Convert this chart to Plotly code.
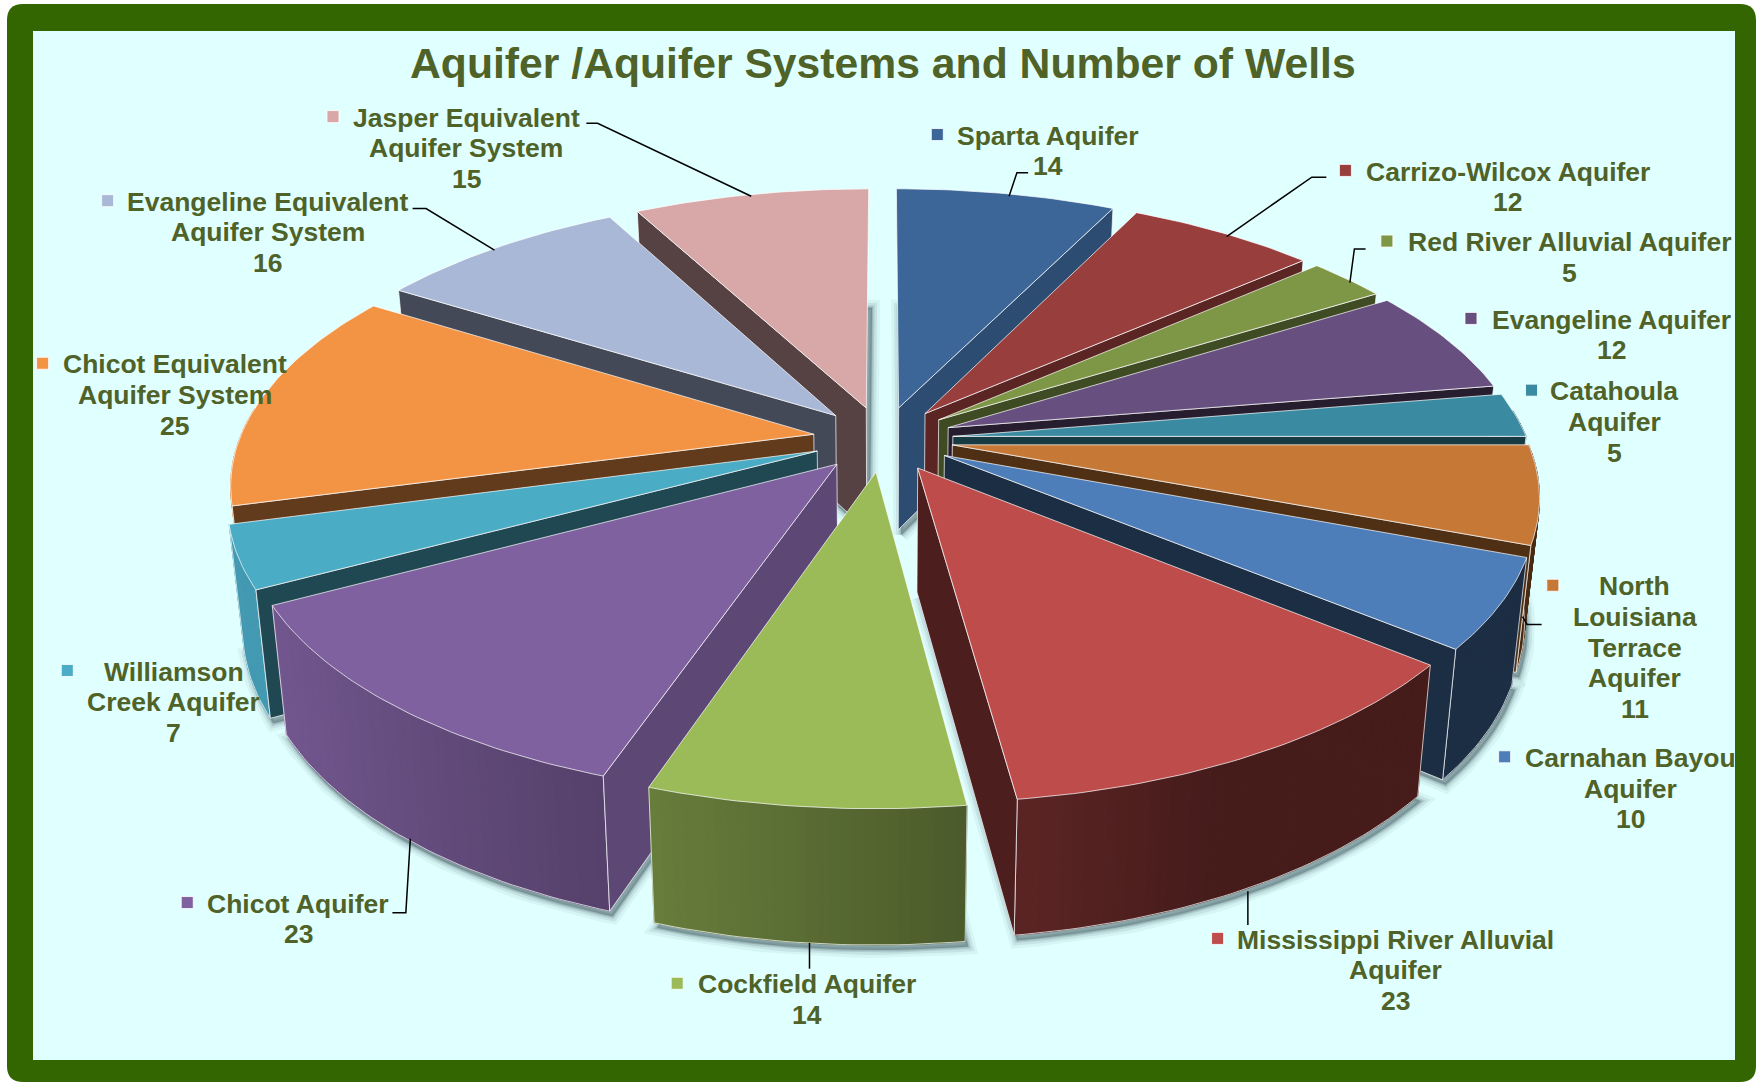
import numpy as np
import plotly.graph_objects as go

names = ["Sparta Aquifer", "Carrizo-Wilcox Aquifer", "Red River Alluvial Aquifer", "Evangeline Aquifer",
         "Catahoula Aquifer", "North Louisiana Terrace Aquifer", "Carnahan Bayou Aquifer",
         "Mississippi River Alluvial Aquifer", "Cockfield Aquifer", "Chicot Aquifer",
         "Williamson Creek Aquifer", "Chicot Equivalent Aquifer System",
         "Evangeline Equivalent Aquifer System", "Jasper Equivalent Aquifer System"]
wells = [14, 12, 5, 12, 5, 11, 10, 23, 14, 23, 7, 25, 16, 15]

label_lines = [["Sparta Aquifer"], ["Carrizo-Wilcox Aquifer"], ["Red River Alluvial Aquifer"], ["Evangeline Aquifer"],
               ["Catahoula", "Aquifer"], ["North", "Louisiana", "Terrace", "Aquifer"], ["Carnahan Bayou", "Aquifer"],
               ["Mississippi River Alluvial", "Aquifer"], ["Cockfield Aquifer"], ["Chicot Aquifer"],
               ["Williamson", "Creek Aquifer"], ["Chicot Equivalent", "Aquifer System"],
               ["Evangeline Equivalent", "Aquifer System"], ["Jasper Equivalent", "Aquifer System"]]

# styles
colors = ["#3C6697", "#983E3C", "#7E9746", "#67507F", "#3A8BA1", "#C67836", "#4D7EBA",
          "#BE4C4B", "#9BBB59", "#7F619F", "#4BACC6", "#F39445", "#A9B8D7", "#D8A7A7"]
edge_shade = [.75, .6, .5, .37, .42, .4, .37, .4, .6, .74, .42, .4, .4, .4]

# layout in page pixels
S = 1758 / 1568
label_xy = [(935, 121), (1345, 153), (1400, 216), (1437, 285), (1440, 349), (1458, 523), (1454, 676),
            (1245, 838), (720, 878), (266, 806), (155, 599), (156, 325), (239, 180), (416, 105)]
key_xy = [(836, 120), (1200, 152), (1237, 215), (1312, 284), (1366, 348), (1385, 522), (1342, 675),
          (1086, 837), (604, 877), (167, 805), (60, 598), (38, 324), (96, 179), (297, 104)]
leaders = [[(917, 154), (907, 154), (900, 175)], [(1183, 158), (1170, 158), (1094, 211)],
           [(1218, 222), (1208, 222), (1204, 252)], [(1375, 557), (1362, 557), (1358, 550)],
           [(1113, 825), (1113, 795)], [(722, 864), (722, 841)], [(350, 814), (362, 814), (366, 748)],
           [(368, 186), (380, 186), (441, 223)], [(523, 110), (533, 110), (670, 175)]]

CX, CY, RX, RY, K = 883, 439, 638, 296, 0.19
RAD, PULL = 0.90, 0.11
TEXT = "#4F6228"
FONT = "Liberation Sans, Arial, sans-serif"
WIDTH, HEIGHT = 1758, 1084


def top(u, v):
    w = 1 - K * v
    return CX + RX * u / w, CY + RY * v / w


def bottom(u, v):
    x, y = top(u, v)
    w = 1 - K * v
    return CX + (x - CX) * 0.977, y + 67 + 56 / w


def rgb(hexc, f):
    c = [int(hexc[i:i + 2], 16) for i in (1, 3, 5)]
    return "rgb(%d,%d,%d)" % tuple(int(min(255, x * f)) for x in c)


def poly(pts, fill, line="rgba(0,0,0,0)", width=0):
    xs, ys = zip(*pts)
    return go.Scatter(x=list(xs) + [xs[0]], y=list(ys) + [ys[0]], mode="lines", fill="toself",
                      fillcolor=fill, line=dict(color=line, width=width), hoverinfo="skip", showlegend=False)


total = sum(wells)
ends = np.cumsum(wells) / total * 2 * np.pi
starts = ends - np.array(wells) / total * 2 * np.pi
mids = (starts + ends) / 2
EDGE = "rgba(255,255,255,0.7)"
fig = go.Figure()


def rim(i):
    n = max(3, int(wells[i]))
    th = np.linspace(starts[i], ends[i], n * 2 + 1)
    ox, oy = PULL * np.sin(mids[i]), -PULL * np.cos(mids[i])
    return [(ox + RAD * np.sin(t), oy - RAD * np.cos(t)) for t in th], (ox, oy), th


# soft shadows
for wid, al in ((16, .08), (10, .12), (5, .2), (2, .25)):
    for i in range(len(wells)):
        r, tip, _ = rim(i)
        pts = [bottom(*tip)] + [bottom(*p) for p in r]
        pts = [(x + 3, y + 5) for x, y in pts]
        c = "rgba(85,110,115,%.2f)" % al
        fig.add_trace(poly(pts, c, c, wid))

# slices, back to front
order = np.argsort(-np.cos(mids))
for i in order:
    r, tip, th = rim(i)
    col = colors[i]
    wall = rgb(col, edge_shade[i])
    # outer wall in shaded strips, only where it faces the viewer
    seen = []
    for a, b, t0, t1 in zip(r[:-1], r[1:], th[:-1], th[1:]):
        t = (t0 + t1) / 2
        if np.cos(t) < 0.1:
            f = float(np.clip(0.54 - 0.41 * np.sin(t), 0.37, 0.9))
            c = rgb(col, f)
            fig.add_trace(poly([top(*a), top(*b), bottom(*b), bottom(*a)], c, c, 1))
            seen += [a, b]
    if seen:
        xs, ys = zip(*([top(*seen[0])] + [bottom(*p) for p in seen] + [top(*seen[-1])]))
        fig.add_trace(go.Scatter(x=xs, y=ys, mode="lines", line=dict(color=EDGE, width=1),
                                 hoverinfo="skip", showlegend=False))
    # the radial wall that faces the viewer; the front-most slice hides both of its own
    if abs(mids[i] - np.pi) > 0.2:
        p = r[-1] if mids[i] < np.pi else r[0]
        fig.add_trace(poly([top(*tip), top(*p), bottom(*p), bottom(*tip)], wall, EDGE, 1))
    # top face
    fig.add_trace(poly([top(*tip)] + [top(*q) for q in r], col, EDGE, 1))

# leader lines
for pts in leaders:
    xs, ys = zip(*[(x * S, y * S) for x, y in pts])
    fig.add_trace(go.Scatter(x=xs, y=ys, mode="lines", line=dict(color="#000000", width=1.5),
                             hoverinfo="skip", showlegend=False))

# legend keys
fig.add_trace(go.Scatter(x=[p[0] * S for p in key_xy], y=[p[1] * S for p in key_xy], mode="markers",
                         marker=dict(symbol="square", size=12, color=colors,
                                     line=dict(color="rgba(255,255,255,0.8)", width=1)),
                         hoverinfo="skip", showlegend=False))

# labels
annotations = []
for (lx, ly), lines, n in zip(label_xy, label_lines, wells):
    for j, txt in enumerate(list(lines) + [str(n)]):
        annotations.append(dict(x=lx * S, y=(ly + j * 27.3) * S, text="<b>%s</b>" % txt, showarrow=False,
                                xref="x", yref="y", xanchor="center", yanchor="middle",
                                font=dict(family=FONT, size=26.5, color=TEXT)))
annotations.append(dict(x=788 * S, y=56.5 * S, text="<b>Aquifer /Aquifer Systems and Number of Wells</b>",
                        showarrow=False, xref="x", yref="y", xanchor="center", yanchor="middle",
                        font=dict(family=FONT, size=42.7, color=TEXT)))

# frame: rounded green border around a pale panel
x0, y0, x1, y1, rr = 7, 4, 1756, 1082, 16
frame = (f"M {x0 + rr} {y0} L {x1 - rr} {y0} Q {x1} {y0} {x1} {y0 + rr} L {x1} {y1 - rr} Q {x1} {y1} {x1 - rr} {y1} "
         f"L {x0 + rr} {y1} Q {x0} {y1} {x0} {y1 - rr} L {x0} {y0 + rr} Q {x0} {y0} {x0 + rr} {y0} Z")
shapes = [dict(type="path", path=frame, fillcolor="#336600", line=dict(width=0), layer="below", xref="x", yref="y"),
          dict(type="rect", x0=33, y0=31, x1=1735, y1=1060, fillcolor="#E0FFFF", line=dict(width=0),
               layer="below", xref="x", yref="y")]

fig.update_layout(width=WIDTH, height=HEIGHT, autosize=False, margin=dict(l=0, r=0, t=0, b=0),
                  paper_bgcolor="#FFFFFF", plot_bgcolor="rgba(0,0,0,0)", showlegend=False,
                  xaxis=dict(range=[0, WIDTH], visible=False, fixedrange=True),
                  yaxis=dict(range=[HEIGHT, 0], visible=False, fixedrange=True),
                  shapes=shapes, annotations=annotations)
fig.write_html("out.html", config={"displayModeBar": False},
               post_script="document.body.style.margin='0';document.body.style.overflow='hidden';")
